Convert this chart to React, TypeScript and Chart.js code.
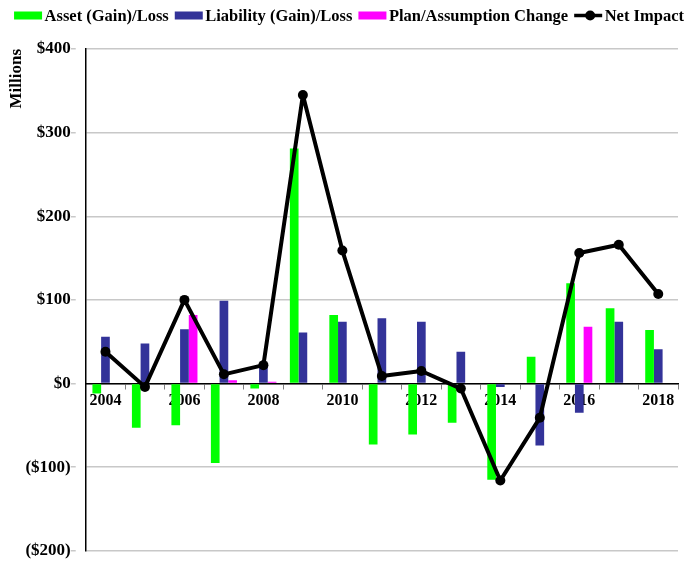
import React, { useEffect, useRef } from "react";
import { Chart, registerables } from "chart.js";

Chart.register(...registerables);

const categories = ["2004","2005","2006","2007","2008","2009","2010","2011","2012","2013","2014","2015","2016","2017","2018"];
const assetGainLoss = [-12, -53, -50, -95, -6, 281, 82, -73, -61, -47, -115, 32, 120, 90, 64];
const liabilityGainLoss = [56, 48, 65, 99, 20, 61, 74, 78, 74, 38, -4, -74, -35, 74, 41];
const planAssumptionChange = [0, 0, 82, 4, 2, 0, 0, 1, 0, 0, 1, 0, 68, 0, 0];
const netImpact = [38, -4, 100, 11, 22, 345, 159, 9, 15, -6, -116, -41, 156, 166, 107];
const yTicks = [-200, -100, 0, 100, 200, 300, 400];

const FONT = "'Liberation Serif', 'Times New Roman', serif";

function fmt(v: number) {
  if (v < 0) return "($" + Math.abs(v) + ")";
  return "$" + v;
}

// Custom legend drawn at the top of the canvas
const customLegendPlugin = {
  id: "customLegend",
  afterDraw(chart: any) {
    const ctx = chart.ctx;
    const ds = chart.data.datasets;
    const boxW = 28;
    const boxH = 8;
    const gapBoxText = 2.5;
    const gapItems = 6;
    const baseline = 21;
    const boxMid = 15.5;
    ctx.save();
    ctx.font = "bold 16.5px " + FONT;
    const widths = ds.map((d: any) => ctx.measureText(d.label).width);
    let total = 0;
    widths.forEach((w: number, i: number) => {
      total += boxW + gapBoxText + w + (i < widths.length - 1 ? gapItems : 0);
    });
    let x = 349 - total / 2;
    ds.forEach((d: any, i: number) => {
      if (d.type === "line") {
        ctx.strokeStyle = d.borderColor;
        ctx.lineWidth = 3.5;
        ctx.beginPath();
        ctx.moveTo(x, boxMid);
        ctx.lineTo(x + boxW, boxMid);
        ctx.stroke();
        ctx.fillStyle = d.borderColor;
        ctx.beginPath();
        ctx.arc(x + boxW / 2 + 2, boxMid, 5, 0, Math.PI * 2);
        ctx.fill();
      } else {
        ctx.fillStyle = d.backgroundColor;
        ctx.fillRect(x, boxMid - boxH / 2, boxW, boxH);
      }
      x += boxW + gapBoxText;
      ctx.fillStyle = "#000";
      ctx.textBaseline = "alphabetic";
      ctx.textAlign = "left";
      ctx.fillText(d.label, x, baseline);
      x += widths[i] + gapItems;
    });
    ctx.restore();
  },
};

export default function App() {
  const ref = useRef<HTMLCanvasElement | null>(null);
  useEffect(() => {
    document.body.style.margin = "0";
    if (!ref.current) return;
    const chart = new Chart(ref.current, {
      type: "bar",
      data: {
        labels: categories,
        datasets: [
          { label: "Asset (Gain)/Loss", data: assetGainLoss, backgroundColor: "#00ff00", order: 1 },
          { label: "Liability (Gain)/Loss", data: liabilityGainLoss, backgroundColor: "#333399", order: 1 },
          { label: "Plan/Assumption Change", data: planAssumptionChange, backgroundColor: "#ff00ff", order: 1 },
          {
            type: "line" as any,
            label: "Net Impact",
            data: netImpact,
            borderColor: "#000",
            backgroundColor: "#000",
            borderWidth: 4,
            borderJoinStyle: "round",
            pointRadius: 5,
            pointBackgroundColor: "#000",
            pointBorderWidth: 0,
            tension: 0,
            order: 0,
          } as any,
        ],
      },
      options: {
        animation: false,
        responsive: false,
        maintainAspectRatio: false,
        layout: { padding: { left: 6, right: 11, top: 49, bottom: 0 } },
        datasets: { bar: { barPercentage: 1, categoryPercentage: 0.66 } } as any,
        plugins: {
          tooltip: { enabled: false },
          legend: { display: false },
        },
        scales: {
          x: {
            position: { y: 0 } as any,
            grid: { drawOnChartArea: false, drawTicks: true, tickLength: 5, color: "#808080", offset: true },
            border: { color: "#000", width: 1.5 },
            ticks: {
              autoSkip: false,
              maxRotation: 0,
              padding: 3,
              color: "#000",
              font: { family: FONT, size: 16, weight: "bold" },
              callback: (_v: any, i: number) => (i % 2 === 0 ? categories[i] : ""),
            },
          },
          y: {
            min: -200,
            max: 400,
            afterBuildTicks: (axis: any) => {
              axis.ticks = yTicks.map((v) => ({ value: v }));
            },
            grid: { color: "#c8c8c8", lineWidth: 1.5, tickLength: 15, tickBorderDash: [5, 100] },
            border: { color: "#000", width: 1.5 },
            ticks: {
              padding: 0,
              color: "#000",
              font: { family: FONT, size: 17, weight: "bold" },
              callback: (v: any) => fmt(Number(v)),
            },
            title: {
              display: true,
              text: "Millions",
              align: "end",
              color: "#000",
              font: { family: FONT, size: 17, weight: "bold" },
              padding: { top: 0, bottom: -1 },
            },
          },
        },
      },
      plugins: [customLegendPlugin],
    });
    return () => chart.destroy();
  }, []);
  return <canvas ref={ref} width={689} height={561} style={{ display: "block" }} />;
}
